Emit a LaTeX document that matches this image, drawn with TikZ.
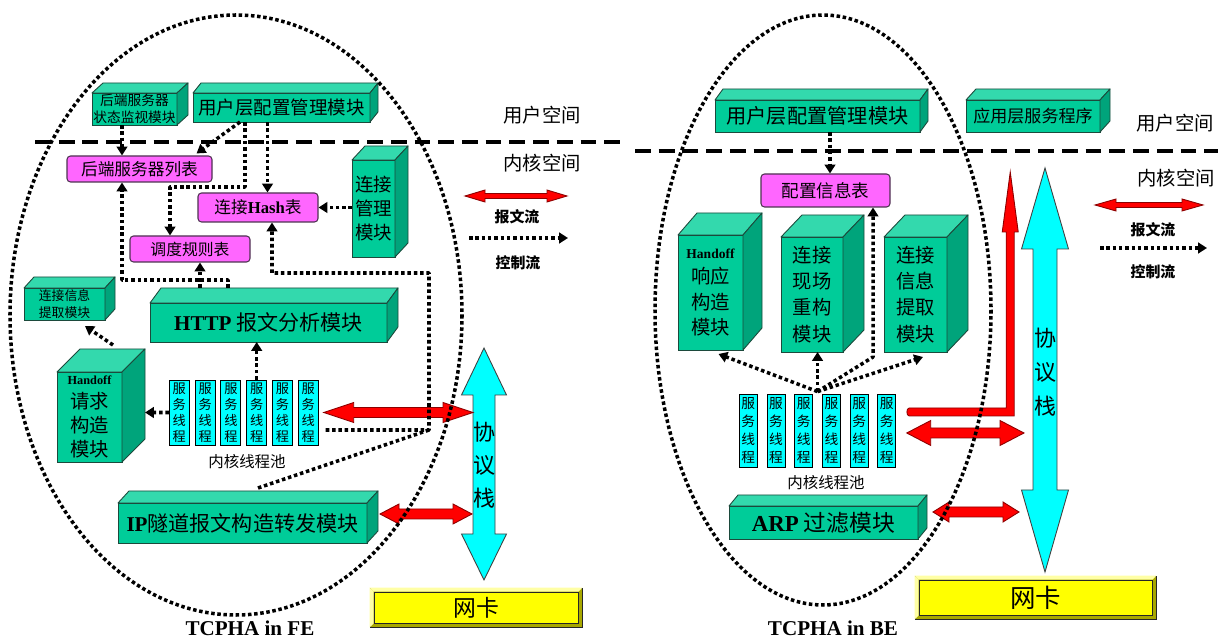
\documentclass[tikz,border=0pt]{standalone}
\usepackage{fontspec}
\setmainfont{Noto Sans CJK SC}
\newfontfamily\tnr{Liberation Serif}
\usetikzlibrary{arrows.meta,calc}
\definecolor{cubefront}{HTML}{00CC99}
\definecolor{cubetop}{HTML}{33D9AD}
\definecolor{cubeside}{HTML}{00A47B}
\definecolor{cubeedge}{HTML}{1C4A3C}
\definecolor{tablepink}{HTML}{FF66FF}
\definecolor{tableedge}{HTML}{4D3350}
\definecolor{aqua}{HTML}{00FFFF}
\definecolor{pktred}{HTML}{FF0000}
\definecolor{pktedge}{HTML}{8C0000}
\definecolor{nicyellow}{HTML}{FFFF00}
\definecolor{nicdark}{HTML}{A8A800}
\definecolor{niclight}{HTML}{FFFFA6}
\newcommand{\lat}[1]{{\tnr\bfseries #1}}
% top and side faces of a module block
\newcommand{\cubefaces}[3]{%
  \filldraw[cubeline,fill=cubetop] (#1.north west) -- ++(#2,-#3) -- ($(#1.north east)+(#2,-#3)$) -- (#1.north east) -- cycle;
  \filldraw[cubeline,fill=cubeside] (#1.north east) -- ($(#1.north east)+(#2,-#3)$) -- ($(#1.south east)+(#2,-#3)$) -- (#1.south east) -- cycle;}
% packet flow: horizontal double arrow
\newcommand{\pktarrow}[5]{%
  \filldraw[pkt] (#1) -- ($(#1)+(#3,-#4)$) -- ($(#1)+(#3,-#5)$) -- ($(#2)+(-#3,-#5)$) -- ($(#2)+(-#3,-#4)$) -- (#2)
    -- ($(#2)+(-#3,#4)$) -- ($(#2)+(-#3,#5)$) -- ($(#1)+(#3,#5)$) -- ($(#1)+(#3,#4)$) -- cycle;}
% protocol stack: vertical double arrow
\newcommand{\stackarrow}[6]{%
  \filldraw[stackfill] (#1) -- ($(#1)+(#5,#3)$) -- ($(#1)+(#6,#3)$) -- ($(#2)+(#6,-#4)$) -- ($(#2)+(#5,-#4)$) -- (#2)
    -- ($(#2)+(-#5,-#4)$) -- ($(#2)+(-#6,-#4)$) -- ($(#1)+(-#6,#3)$) -- ($(#1)+(-#5,#3)$) -- cycle;}

\begin{document}
\begin{tikzpicture}[x=0.02cm,y=-0.02cm,
 sz/.style 2 args={minimum width=#1*0.02cm,minimum height=#2*0.02cm},
 modbox/.style={draw=cubeedge,fill=cubefront,line width=0.5pt,inner sep=0pt,outer sep=0pt,align=center},
 cubeline/.style={draw=cubeedge,line width=0.5pt,line join=round},
 tablebox/.style={draw=tableedge,fill=tablepink,rounded corners=2pt,line width=0.6pt,inner sep=0pt},
 thread/.style={draw=black,fill=aqua,line width=0.5pt,inner sep=0pt,align=center},
 ctrl/.style={line width=2pt,dash pattern=on 2pt off 1.6pt,line join=round,-{Triangle[length=5pt,width=6pt]}},
 ctrlline/.style={line width=2pt,dash pattern=on 2pt off 1.6pt},
 orbit/.style={line width=2pt,dash pattern=on 2pt off 1.5pt},
 sep/.style={line width=2.8pt,dash pattern=on 9pt off 4.5pt},
 pkt/.style={fill=pktred,draw=pktedge,line width=0.5pt},
 stackfill/.style={fill=aqua,draw=black!75,line width=0.5pt},
 nicbox/.style={fill=nicdark,draw=black!85,line width=0.5pt,inner sep=0pt},
 nicface/.style={fill=nicyellow,draw=black!85,line width=0.5pt,inner sep=0pt},
 spacelbl/.style={font=\fontsize{11}{13}\selectfont},
 leglbl/.style={font=\fontsize{8.5}{10}\selectfont\bfseries}]
\fill[white] (0,0) rectangle (1218,641);
\useasboundingbox (0,0) rectangle (1218,641);

% user space / kernel space
\draw[sep] (35,142) -- (620,142);
\draw[sep] (635,151) -- (1218,151);
\node[spacelbl] (us-fe) at (542,115) {用户空间};
\node[spacelbl] (ks-fe) at (542,163) {内核空间};
\node[spacelbl] (us-be) at (1175,123) {用户空间};
\node[spacelbl] (ks-be) at (1176,178) {内核空间};

% ---------- TCPHA in FE ----------
\node[modbox,sz={85}{32},font=\fontsize{7.8}{9.4}\selectfont] (mon) at (134.5,109) {后端服务器\\状态监视模块};
\cubefaces{mon}{11}{10}
\node[modbox,sz={177}{29},font=\fontsize{10.5}{12}\selectfont] (cfg-fe) at (281.5,107.5) {用户层配置管理模块};
\cubefaces{cfg-fe}{8}{10}
\node[tablebox,sz={145}{26},font=\fontsize{9.5}{11}\selectfont] (srvlist) at (139.5,169) {后端服务器列表};
\node[tablebox,sz={120}{29},font=\fontsize{9.5}{11}\selectfont] (hash) at (258,207.5) {连接\lat{Hash}表};
\node[tablebox,sz={120}{26},font=\fontsize{9}{11}\selectfont] (sched) at (190,249) {调度规则表};
\node[modbox,sz={43}{97},font=\fontsize{10.5}{13.5}\selectfont] (connmgr) at (373.5,208.5) {连接\\管理\\模块};
\cubefaces{connmgr}{13}{14}
\node[modbox,sz={81}{32},font=\fontsize{7.3}{9.2}\selectfont] (extract-fe) at (64.5,304) {连接信息\\提取模块};
\cubefaces{extract-fe}{10}{11}
\node[modbox,sz={237}{39},font=\fontsize{12}{14}\selectfont] (http) at (268.5,322.5) {\lat{HTTP} 报文分析模块};
\cubefaces{http}{11}{15}
\node[modbox,sz={65}{90},font=\fontsize{11}{13.5}\selectfont] (handoff-req) at (89.5,417) {{\fontsize{7}{8}\selectfont\lat{Handoff}}\\请求\\构造\\模块};
\cubefaces{handoff-req}{23}{23}
\foreach \i in {1,...,6}
  \node[thread,sz={20}{65},font=\fontsize{7.5}{9.2}\selectfont] (th\i) at ({179.3+25.8*(\i-1)},412.5) {服\\务\\线\\程};
\node[font=\fontsize{8.8}{10}\selectfont] (pool-fe) at (247,462) {内核线程池};
\node[modbox,sz={249}{40},font=\fontsize{12}{14}\selectfont] (ip) at (242.5,523) {\lat{IP}隧道报文构造转发模块};
\cubefaces{ip}{11}{12}

\coordinate (stk-fe-t) at (484,348);
\coordinate (stk-fe-b) at (484,580);
\stackarrow{stk-fe-t}{stk-fe-b}{47}{46}{22.5}{11}
\node[font=\fontsize{12.5}{18.7}\selectfont,align=center,inner sep=0pt] (stack-fe) at (484,465) {协\\议\\栈};

\node[nicbox,sz={212}{39}] (nic-fe) at (476,607.5) {};
\fill[niclight] (nic-fe.north west) -- (nic-fe.north east) -- ++(-4,4) -- ($(nic-fe.north west)+(4,4)$) -- cycle;
\fill[niclight] (nic-fe.north west) -- (nic-fe.south west) -- ++(4,-4) -- ($(nic-fe.north west)+(4,4)$) -- cycle;
\node[nicface,sz={204}{31},font=\fontsize{13}{15}\selectfont] (nic-fe-t) at (nic-fe) {网卡};
\node[font=\fontsize{12}{14}\selectfont] (cap-fe) at (250,628) {\lat{TCPHA in FE}};

% packet flows FE
\coordinate (pf0) at ($(th6.east)+(5,0)$);
\coordinate (pf1) at (473,412.5);
\pktarrow{pf0}{pf1}{30}{10}{5}
\coordinate (pi0) at ($(ip.east)+(13,-9)$);
\coordinate (pi1) at (472,514);
\pktarrow{pi0}{pi1}{19}{10}{5}

\draw[orbit] (236,315) ellipse [x radius=226,y radius=300];

% control flows FE
\draw[ctrl] ($(mon.south)+(-12.5,0)$) -- ($(srvlist.north)+(-17.5,0)$);
\draw[ctrl] ($(cfg-fe.south)+(-41.5,0)$) -- ($(srvlist.north east)+(-16,-2)$);
\draw[ctrl] ($(cfg-fe.south)+(-36.5,0)$) -- ++(0,65) -| ($(sched.north)+(-20,0)$);
\draw[ctrl] ($(cfg-fe.south)+(-14,0)$) -- ($(hash.north)+(9.5,0)$);
\draw[ctrl] (connmgr.west |- hash.east) -- (hash.east);
\draw[ctrl] ($(http.north)+(-40.5,-15)$) -- ++(0,-8) -| ($(srvlist.south)+(-17.5,0)$);
\draw[ctrl] ($(http.north)+(-68.5,-15)$) -- ($(sched.south)+(10,0)$);
\coordinate (loop0) at ($(th6.east)+(7,17.5)$);
\coordinate (loop1) at (429,430);
\draw[ctrl] (loop0) -- (loop1) -- ++(0,-157) -| ($(hash.south)+(14,0)$);
\draw[ctrlline] ($(ip.north)+(15.5,-15)$) -- (loop1);
\draw[ctrl] (th1.west) -- ($(handoff-req.east)+(23,-4.5)$);
\draw[ctrl] (th4.north) -- (th4.north |- http.south);
\draw[ctrl] ($(handoff-req.north)+(23.5,-27)$) -- ($(extract-fe.south)+(20.5,6)$);

% legend FE
\coordinate (lg-fe0) at (465,196);
\coordinate (lg-fe1) at (567,196);
\pktarrow{lg-fe0}{lg-fe1}{20}{6}{2.5}
\node[leglbl] (pk-fe) at (517,217) {报文流};
\coordinate (lc-fe0) at (469,238);
\coordinate (lc-fe1) at (568,238);
\draw[ctrl] (lc-fe0) -- (lc-fe1);
\node[leglbl] (ct-fe) at (518,263) {控制流};

% ---------- TCPHA in BE ----------
\node[modbox,sz={205}{32},font=\fontsize{11.5}{13}\selectfont] (cfg-be) at (817.5,116) {用户层配置管理模块};
\cubefaces{cfg-be}{8}{11}
\node[modbox,sz={134}{32},font=\fontsize{9.7}{11}\selectfont] (app) at (1033,116) {应用层服务程序};
\cubefaces{app}{10}{11}
\node[tablebox,sz={129}{33},font=\fontsize{10}{12}\selectfont] (cfgtab) at (825.5,190.5) {配置信息表};
\node[modbox,sz={65}{115},font=\fontsize{11}{14.5}\selectfont] (hoff-rsp) at (710.5,292.5) {{\fontsize{7.7}{9}\selectfont\lat{Handoff}}\\响应\\构造\\模块};
\cubefaces{hoff-rsp}{19}{22}
\node[modbox,sz={62}{115},font=\fontsize{11}{15}\selectfont] (rebuild) at (812,294.5) {连接\\现场\\重构\\模块};
\cubefaces{rebuild}{21}{22}
\node[modbox,sz={63}{115},font=\fontsize{11}{15}\selectfont] (extract-be) at (915.5,294.5) {连接\\信息\\提取\\模块};
\cubefaces{extract-be}{21}{22}
\foreach \i in {1,...,6}
  \node[thread,sz={18}{73},font=\fontsize{7.8}{10.4}\selectfont] (thb\i) at ({748.3+27.7*(\i-1)},430.5) {服\\务\\线\\程};
\node[font=\fontsize{8.8}{10}\selectfont] (pool-be) at (826,483) {内核线程池};
\node[modbox,sz={189}{33},font=\fontsize{13}{15}\selectfont] (arp) at (823.5,522.5) {\lat{ARP} 过滤模块};
\cubefaces{arp}{9}{11}

\coordinate (stk-be-t) at (1045,168);
\coordinate (stk-be-b) at (1045,572);
\stackarrow{stk-be-t}{stk-be-b}{81}{82}{23.5}{12}
\node[font=\fontsize{12.5}{19.5}\selectfont,align=center,inner sep=0pt] (stack-be) at (1045,372) {协\\议\\栈};

\node[nicbox,sz={241}{43}] (nic-be) at (1035.5,597.5) {};
\fill[niclight] (nic-be.north west) -- (nic-be.north east) -- ++(-4,4) -- ($(nic-be.north west)+(4,4)$) -- cycle;
\fill[niclight] (nic-be.north west) -- (nic-be.south west) -- ++(4,-4) -- ($(nic-be.north west)+(4,4)$) -- cycle;
\node[nicface,sz={233}{35},font=\fontsize{14.5}{16}\selectfont] (nic-be-t) at (nic-be) {网卡};
\node[font=\fontsize{12}{14}\selectfont] (cap-be) at (833,628) {\lat{TCPHA in BE}};

% packet flows BE
\coordinate (up0) at ($(thb6.east)+(13,-22.5)$);
\filldraw[pkt] (up0) -- ++(97,0) -- ++(0,-176) -- ++(-4,0) -- ++(8,-60) -- ++(8,60) -- ++(-4,0) -- ++(0,184) -- ++(-105,0) to[out=180,in=180] (up0) -- cycle;
\coordinate (pe0) at ($(thb6.east)+(10.5,2.5)$);
\coordinate (pe1) at (1024,433);
\pktarrow{pe0}{pe1}{24}{12.5}{5}
\coordinate (pa0) at ($(arp.east)+(15,-10.5)$);
\coordinate (pa1) at (1019,512);
\pktarrow{pa0}{pa1}{16}{10}{5}

\draw[orbit] (823,310) ellipse [x radius=168,y radius=295];

% control flows BE
\draw[ctrl] ($(cfg-be.south)+(12.5,0)$) -- ($(cfgtab.north)+(4.5,0)$);
\coordinate (fan) at ($(thb3.north)!0.5!(thb4.north)+(0,-2)$);
\coordinate (kink) at (873,357);
\draw[ctrl] (fan) -- ($(hoff-rsp.south)+(8,4)$);
\draw[ctrl] (fan) -- (fan |- rebuild.south);
\draw[ctrl] (fan) -- (kink) -- (kink |- cfgtab.south);
\draw[ctrl] (fan) -- ($(extract-be.south)+(7.5,5)$);

% legend BE
\coordinate (lg-be0) at (1095,205);
\coordinate (lg-be1) at (1203,205);
\pktarrow{lg-be0}{lg-be1}{21}{6}{2.5}
\node[leglbl] (pk-be) at (1153,230) {报文流};
\coordinate (lc-be0) at (1100,248);
\coordinate (lc-be1) at (1207,248);
\draw[ctrl] (lc-be0) -- (lc-be1);
\node[leglbl] (ct-be) at (1153,272) {控制流};
\end{tikzpicture}
\end{document}
